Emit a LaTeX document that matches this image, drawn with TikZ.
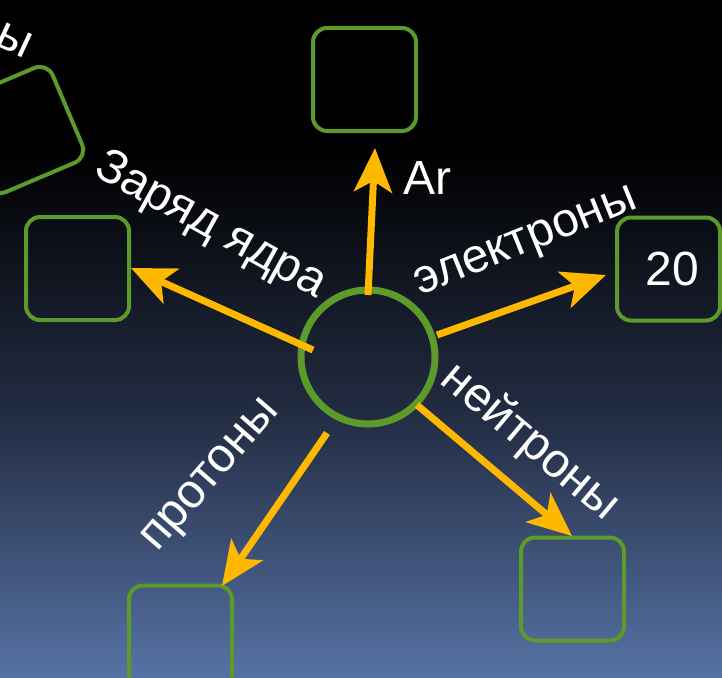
\documentclass[tikz,border=0pt]{standalone}
\usepackage{fontspec}
\setmainfont{Liberation Sans}
\usetikzlibrary{arrows.meta}
\definecolor{grn}{RGB}{92,154,44}
\definecolor{gold}{RGB}{255,184,0}
\definecolor{bgbot}{RGB}{86,114,164}
\definecolor{bgmid}{RGB}{34,44,66}
\begin{document}
\begin{tikzpicture}[x=1pt,y=-1pt,
  box/.style={draw=grn,line width=4pt,rounded corners=14pt,minimum width=103pt,minimum height=103pt,inner sep=0pt,font=\fontsize{48}{52}\selectfont,text=white},
  atomst/.style={draw=grn,line width=7pt,circle,minimum size=134pt,inner sep=0pt},
  arr/.style={draw=gold,line width=7pt,-{Stealth[length=44pt,width=38pt,inset=11pt]}},
  lbl/.style={text=white,font=\fontsize{48}{52}\selectfont,inner sep=0pt}]
\useasboundingbox (0,0) rectangle (722,677);
\clip (0,0) rectangle (722,677);
\fill[black] (0,0) rectangle (722,150);
\shade[top color=black,bottom color=bgbot,middle color=bgmid] (0,149) rectangle (722,677);
% atom
\node[atomst] (atom) at (368,357) {};
% boxes
\node[box] (btop) at (364.5,79.5) {};
\node[box,text depth=0pt] (bright) at (668.5,269) {\hspace*{8pt}20};
\node[box] (bleft) at (77.5,268.5) {};
\node[box] (bbl) at (180.5,637) {};
\node[box] (bbr) at (572.5,589) {};
\node[box,rotate=23] (btl) at (20,130) {};
% arrow ends
\coordinate (s1) at (368,295); \coordinate (e1) at (375,148);
\coordinate (s2) at (437,335); \coordinate (e2) at (606,275);
\coordinate (s3) at (313,350); \coordinate (e3) at (131,268);
\coordinate (s4) at (327,433); \coordinate (e4) at (222,586);
\coordinate (s5) at (417,405); \coordinate (e5) at (572,536);
\draw[arr] (s1) -- (e1);
\draw[arr] (s2) -- (e2);
\draw[arr] (s3) -- (e3);
\draw[arr] (s4) -- (e4);
\draw[arr] (s5) -- (e5);
% labels
\node[lbl] (lar) at (427,178) {Ar};
\node[lbl,rotate=-29] (lz) at (210,226) {Заряд ядра};
\node[lbl,rotate=22] (le) at (527,244) {электроны};
\node[lbl,rotate=49] (lp) at (213,477) {протоны};
\node[lbl,rotate=-40] (ln) at (530,442) {нейтроны};
\node[lbl,rotate=-25] (ly) at (14,40) {ы};
\end{tikzpicture}
\end{document}
